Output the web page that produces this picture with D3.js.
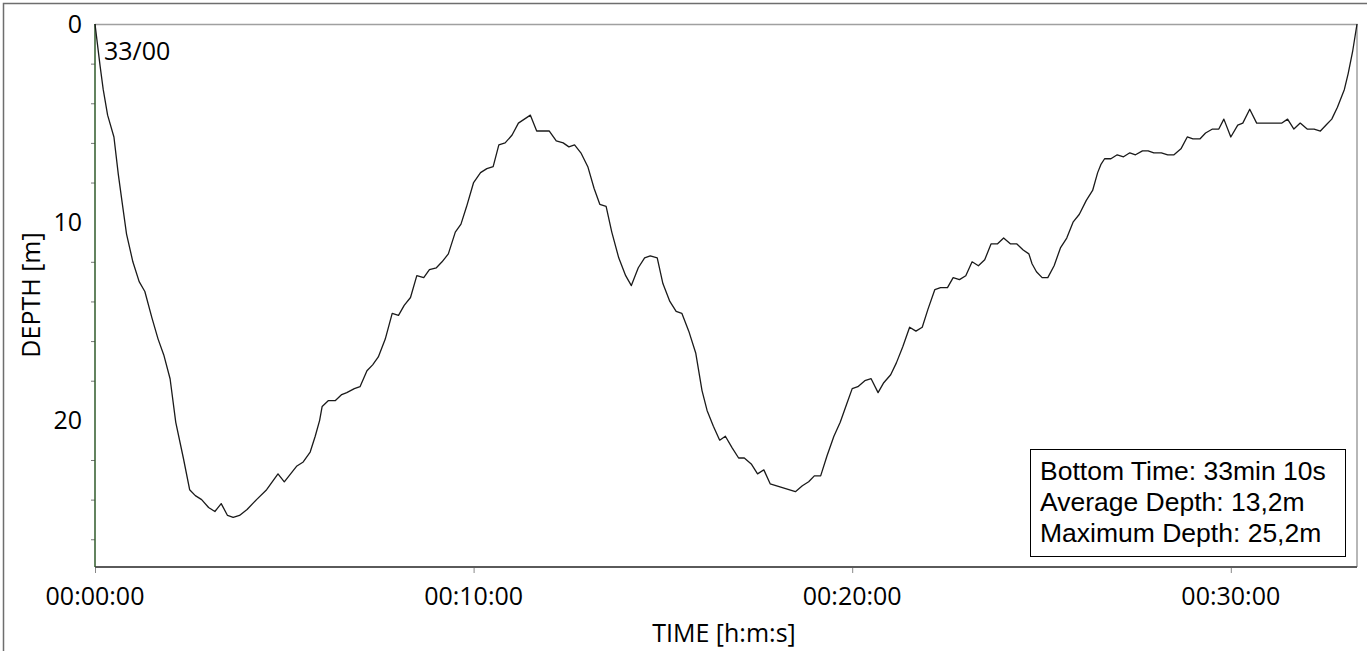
<!DOCTYPE html>
<html>
<head>
<meta charset="utf-8">
<script src="https://cdn.jsdelivr.net/npm/d3@7"></script>
<style>
  html, body { margin: 0; padding: 0; background: #fff; }
  svg { display: block; }
  .tick-label { font-family: "Open Sans", sans-serif; font-size: 25px; fill: #000; }
  .axis-title { font-family: "Open Sans", sans-serif; font-size: 25px; fill: #000; }
  .info { font-family: "Liberation Sans", Arial, sans-serif; font-size: 26.5px; fill: #000; }
</style>
</head>
<body>
<div id="chart"></div>
<script>
// dive profile: elapsed time in seconds, depth in metres
const times = [
  0, 8, 13, 20, 30, 37, 43, 50, 60, 70, 79, 90, 100, 109, 119, 128, 140, 150, 159, 169,
  180, 190, 200, 210, 219, 229, 241, 256, 272, 290, 300, 320, 330, 341, 349, 356, 360, 370, 381, 391,
  399, 411, 420, 431, 440, 449, 460, 471, 481, 490, 500, 510, 521, 530, 541, 550, 560, 571, 580, 589,
  600, 611, 621, 631, 640, 650, 661, 671, 690, 700, 720, 731, 742, 751, 760, 770, 781, 791, 800, 810,
  819, 830, 841, 850, 861, 871, 880, 891, 900, 911, 921, 930, 941, 952, 962, 970, 980, 990, 999, 1010,
  1020, 1029, 1040, 1050, 1060, 1070, 1110, 1121, 1131, 1140, 1150, 1160, 1171, 1181, 1191, 1200, 1209, 1220, 1230, 1241,
  1250, 1261, 1270, 1280, 1291, 1301, 1311, 1320, 1331, 1340, 1351, 1360, 1370, 1380, 1390, 1400, 1410, 1420, 1430, 1440,
  1451, 1461, 1471, 1480, 1485, 1492, 1501, 1510, 1520, 1530, 1540, 1550, 1560, 1571, 1581, 1589, 1594, 1600, 1610, 1620,
  1630, 1640, 1649, 1660, 1669, 1678, 1690, 1700, 1710, 1721, 1731, 1740, 1751, 1760, 1771, 1781, 1789, 1800, 1811, 1819,
  1830, 1841, 1853, 1869, 1881, 1890, 1900, 1910, 1921, 1932, 1942, 1951, 1960, 1969, 1980, 1986, 1993, 2000
];
const depths = [
  0, 2.1, 3.3, 4.6, 5.7, 7.6, 9.0, 10.6, 12.0, 13.0, 13.5, 14.8, 15.9, 16.7, 17.9, 20.1, 21.9, 23.5, 23.8, 24.0,
  24.4, 24.6, 24.2, 24.8, 24.9, 24.8, 24.5, 24.0, 23.5, 22.7, 23.1, 22.3, 22.1, 21.6, 20.8, 20.0, 19.3, 19.0, 19.0, 18.7,
  18.6, 18.4, 18.3, 17.5, 17.2, 16.8, 15.9, 14.6, 14.7, 14.2, 13.8, 12.7, 12.8, 12.4, 12.3, 12.0, 11.6, 10.5, 10.1, 9.2,
  8.0, 7.5, 7.3, 7.2, 6.1, 6.0, 5.6, 5.0, 4.6, 5.4, 5.4, 5.9, 6.0, 6.2, 6.1, 6.5, 7.2, 8.3, 9.1, 9.2,
  10.5, 11.8, 12.7, 13.2, 12.3, 11.8, 11.7, 11.8, 13.1, 14.0, 14.5, 14.6, 15.5, 16.6, 18.5, 19.5, 20.3, 21.0, 20.8, 21.4,
  21.9, 21.9, 22.2, 22.7, 22.5, 23.2, 23.6, 23.3, 23.1, 22.8, 22.8, 21.8, 20.8, 20.1, 19.2, 18.4, 18.3, 18.0, 17.9, 18.6,
  18.1, 17.7, 17.1, 16.3, 15.3, 15.5, 15.3, 14.4, 13.4, 13.3, 13.3, 12.8, 12.9, 12.7, 12.0, 12.2, 11.9, 11.1, 11.1, 10.8,
  11.1, 11.1, 11.4, 11.6, 12.1, 12.5, 12.8, 12.8, 12.2, 11.3, 10.8, 10.0, 9.6, 8.9, 8.4, 7.5, 7.1, 6.8, 6.8, 6.6,
  6.7, 6.5, 6.6, 6.4, 6.4, 6.5, 6.5, 6.6, 6.6, 6.3, 5.7, 5.8, 5.8, 5.5, 5.3, 5.3, 4.8, 5.7, 5.1, 5.0,
  4.3, 5.0, 5.0, 5.0, 5.0, 4.8, 5.3, 5.0, 5.3, 5.3, 5.4, 5.1, 4.8, 4.2, 3.3, 2.5, 1.4, 0
];

const depthLabels = [0, 10, 20];
const depthMinor = [2, 4, 6, 8, 12, 14, 16, 18, 22, 24, 26];
const timeTicks = [0, 600, 1200, 1800];
const timeMax = 2000;
const depthMax = 27.4;
const diveNumber = '33/00';
const infoLines = [
  'Bottom Time: 33min 10s',
  'Average Depth: 13,2m',
  'Maximum Depth: 25,2m'
];

const W = 1367, H = 651;
const margin = { top: 24, right: 10, bottom: 84, left: 95 };
const width = W - margin.left - margin.right;
const height = H - margin.top - margin.bottom;

function fmtTime(s) {
  const h = Math.floor(s / 3600);
  const m = Math.floor((s % 3600) / 60);
  const sec = s % 60;
  return [h, m, sec].map(v => String(v).padStart(2, '0')).join(':');
}

const svg = d3.select('#chart')
  .append('svg')
  .attr('width', W)
  .attr('height', H);

// outer frame
svg.append('rect')
  .attr('x', 3.5).attr('y', 3.5)
  .attr('width', W + 10).attr('height', H + 10)
  .attr('fill', 'none')
  .attr('stroke', '#6e6e6e')
  .attr('stroke-width', 1.5);

const g = svg.append('g')
  .attr('transform', `translate(${margin.left},${margin.top})`);

const x = d3.scaleLinear().domain([0, timeMax]).range([0, width]);
const y = d3.scaleLinear().domain([0, depthMax]).range([0, height]);

// plot frame (top and right)
g.append('path')
  .attr('d', `M0,0.5H${width}V${height}`)
  .attr('fill', 'none')
  .attr('stroke', '#a0a0a0')
  .attr('stroke-width', 1.5);

// y axis
const yAxis = g.append('g')
  .call(d3.axisLeft(y).tickValues(depthMinor).tickSize(4).tickFormat(''));
yAxis.select('.domain').remove();
yAxis.selectAll('.tick line').attr('stroke', '#777');

g.selectAll('.ylabel')
  .data(depthLabels)
  .enter()
  .append('text')
  .attr('class', 'tick-label')
  .attr('x', -13)
  .attr('y', d => y(d))
  .attr('dy', '0.36em')
  .attr('text-anchor', 'end')
  .text(d => d);

// x axis
const xAxis = g.append('g')
  .attr('transform', `translate(0,${height})`)
  .call(d3.axisBottom(x).tickValues(timeTicks).tickSize(6).tickFormat(''));
xAxis.select('.domain').remove();
xAxis.selectAll('.tick line').attr('stroke', '#888');

g.selectAll('.xlabel')
  .data(timeTicks)
  .enter()
  .append('text')
  .attr('class', 'tick-label')
  .attr('x', d => x(d))
  .attr('y', height + 38)
  .attr('text-anchor', 'middle')
  .text(d => fmtTime(d));

g.append('line')
  .attr('x1', 0).attr('x2', width)
  .attr('y1', height).attr('y2', height)
  .attr('stroke', '#5a5a5a')
  .attr('stroke-width', 2);

g.append('line')
  .attr('x1', 0).attr('x2', 0)
  .attr('y1', 0).attr('y2', height)
  .attr('stroke', '#2f5a2a')
  .attr('stroke-width', 1.5);

// axis titles
svg.append('text')
  .attr('class', 'axis-title')
  .attr('x', 724)
  .attr('y', 642)
  .attr('text-anchor', 'middle')
  .text('TIME [h:m:s]');

svg.append('text')
  .attr('class', 'axis-title')
  .attr('transform', 'translate(40,295) rotate(-90)')
  .attr('text-anchor', 'middle')
  .text('DEPTH [m]');

// profile line
const profile = times.map((t, i) => ({ t: t, d: depths[i] }));
const line = d3.line()
  .x(d => x(d.t))
  .y(d => y(d.d));

g.append('path')
  .datum(profile)
  .attr('d', line)
  .attr('fill', 'none')
  .attr('stroke', '#1a1a1a')
  .attr('stroke-width', 1.3)
  .attr('stroke-linejoin', 'round');

g.append('text')
  .attr('class', 'tick-label')
  .attr('x', 9)
  .attr('y', 36)
  .text(diveNumber);

// summary box
const box = svg.append('g').attr('transform', 'translate(1030,449)');
box.append('rect')
  .attr('x', 0.5).attr('y', 0.5)
  .attr('width', 315).attr('height', 107)
  .attr('fill', '#fff')
  .attr('stroke', '#000')
  .attr('stroke-width', 1);

box.selectAll('.info')
  .data(infoLines)
  .enter()
  .append('text')
  .attr('class', 'info')
  .attr('x', 10)
  .attr('y', (d, i) => 31 + i * 31)
  .text(d => d);
</script>
</body>
</html>
